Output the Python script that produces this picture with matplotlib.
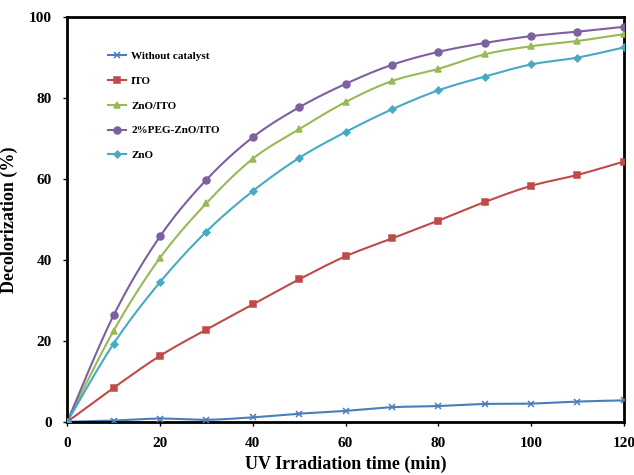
import numpy as np
import matplotlib
matplotlib.use("Agg")
import matplotlib.pyplot as plt

# Data
time_min = [0, 10, 20, 30, 40, 50, 60, 70, 80, 90, 100, 110, 120]
without_catalyst = [0, 0.3, 0.8, 0.5, 1.1, 2.0, 2.7, 3.6, 3.9, 4.4, 4.5, 5.0, 5.3]
ito = [0, 8.4, 16.3, 22.8, 29.0, 35.2, 40.9, 45.3, 49.7, 54.3, 58.3, 61.0, 64.3]
zno_ito = [0, 22.5, 40.5, 54.0, 65.0, 72.3, 79.0, 84.2, 87.2, 90.8, 92.8, 94.1, 95.8]
peg_zno_ito = [0, 26.3, 45.8, 59.8, 70.3, 77.7, 83.5, 88.2, 91.4, 93.6, 95.3, 96.4, 97.6]
zno = [0, 19.3, 34.5, 47.0, 57.0, 65.2, 71.6, 77.2, 81.9, 85.3, 88.3, 90.0, 92.5]

labels = ["Without catalyst", "ITO", "ZnO/ITO", "2%PEG-ZnO/ITO", "ZnO"]
series = [without_catalyst, ito, zno_ito, peg_zno_ito, zno]
colors = ["#4A7EBB", "#BE4B48", "#98B954", "#7D60A0", "#46AAC5"]
markers = ["x", "s", "^", "o", "D"]
msizes = [4.5, 5, 5, 5, 3.5]


def smooth(x, y, n=20):
    # Catmull-Rom style smoothing, like Excel's smoothed lines
    x = np.asarray(x, float)
    y = np.asarray(y, float)
    px = np.concatenate([[x[0]], x, [x[-1]]])
    py = np.concatenate([[y[0]], y, [y[-1]]])
    xs, ys = [], []
    t = np.linspace(0, 1, n, endpoint=False)
    for i in range(1, len(px) - 2):
        for arr, out in ((px, xs), (py, ys)):
            p0, p1, p2, p3 = arr[i - 1], arr[i], arr[i + 1], arr[i + 2]
            out.extend(0.5 * ((2 * p1) + (-p0 + p2) * t
                              + (2 * p0 - 5 * p1 + 4 * p2 - p3) * t ** 2
                              + (-p0 + 3 * p1 - 3 * p2 + p3) * t ** 3))
    xs.append(x[-1])
    ys.append(y[-1])
    return xs, ys


plt.rcParams["font.family"] = "Liberation Serif"
plt.rcParams["font.weight"] = "bold"

fig = plt.figure(figsize=(6.34, 4.75), dpi=100)
ax = fig.add_axes([0.106, 0.112, 0.878, 0.852])

for vals, lab, c, m, ms in zip(series, labels, colors, markers, msizes):
    sx, sy = smooth(time_min, vals)
    ax.plot(sx, sy, color=c, lw=1.5, zorder=2)
    ax.plot(time_min, vals, ls="none", marker=m, color=c, ms=ms,
            mew=1.1, zorder=3)
    ax.plot([], [], color=c, lw=1.5, marker=m, ms=ms, mew=1.1, label=lab)

ax.set_xlim(0, 120)
ax.set_ylim(0, 100)
ax.set_xticks(range(0, 121, 20))
ax.set_yticks(range(0, 101, 20))
ax.tick_params(labelsize=11, length=3, width=1, pad=8)
for s in ax.spines.values():
    s.set_linewidth(2)

ax.set_xlabel("UV Irradiation time (min)", fontsize=13, fontweight="bold",
              labelpad=4)
ax.set_ylabel("Decolorization (%)", fontsize=13, fontweight="bold",
              labelpad=8)

ax.legend(loc="upper left", bbox_to_anchor=(0.055, 0.94), frameon=False,
          labelspacing=1.35, handlelength=1.6, handletextpad=0.5,
          prop={"family": "Liberation Serif", "weight": "bold", "size": 8})

fig.savefig("out.png", dpi=100)
